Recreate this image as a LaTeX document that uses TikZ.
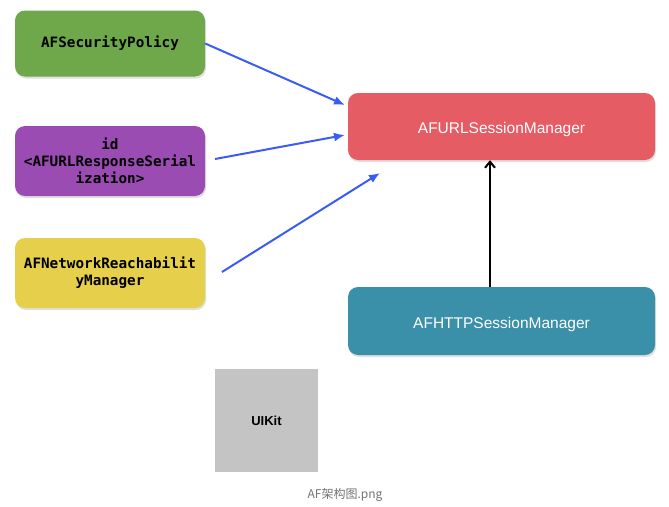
\documentclass[tikz,border=0pt]{standalone}
\usepackage{fontspec}
\setmainfont{Liberation Sans}
\newfontfamily\codefont{DejaVu Sans Mono}
\newfontfamily\cjkfont{Noto Sans CJK SC}
\usetikzlibrary{arrows.meta,shadows}
\definecolor{cgreen}{HTML}{6EA84A}
\definecolor{cpurple}{HTML}{9A4CB3}
\definecolor{cyellow}{HTML}{E5CF4B}
\definecolor{cred}{HTML}{E55C64}
\definecolor{cteal}{HTML}{3A90A8}
\definecolor{cgray}{HTML}{C4C4C4}
\definecolor{cblue}{HTML}{3A5CF5}
\newcommand{\lowertext}[1]{\raisebox{-3pt}[\height][\depth]{#1}}
\tikzset{
  leftbox/.style={draw=none, rounded corners=10pt, minimum width=190pt, minimum height=66pt,
    inner sep=0pt, align=center, text width=188pt,
    font=\codefont\bfseries\fontsize{14.3}{17}\selectfont, text=black,
    drop shadow={shadow xshift=1pt, shadow yshift=-2pt, opacity=0.25}},
  rightbox/.style={draw=none, rounded corners=10pt, minimum width=307pt, minimum height=67pt,
    inner sep=0pt, text=white, font=\fontsize{15.5}{18}\selectfont,
    drop shadow={shadow xshift=1pt, shadow yshift=-2pt, opacity=0.25}},
  bluearrow/.style={draw=cblue, line width=2pt, -{Latex[length=11pt,width=9pt]}},
  blackarrow/.style={draw=black, line width=2pt, -{Straight Barb[length=6pt,width=10pt]}},
}
\begin{document}
\begin{tikzpicture}[x=1pt,y=-1pt]
\useasboundingbox (0,0) rectangle (669,506);
\node[leftbox, fill=cgreen] (sec) at (110,43.5) {AFSecurityPolicy};
\node[leftbox, fill=cpurple, minimum height=70pt] (ser) at (110,161) {id\\<AFURLResponseSerial\\ization>};
\node[leftbox, fill=cyellow, minimum height=70pt] (reach) at (110,273) {AFNetworkReachabilit\\yManager};
\node[rightbox, fill=cred] (url) at (501.5,126.5) {\lowertext{AFURLSessionManager}};
\node[rightbox, fill=cteal, minimum height=68pt] (http) at (501.5,321) {\lowertext{AFHTTPSessionManager}};
\node[fill=cgray, minimum width=103pt, minimum height=103pt, inner sep=0pt,
  font=\bfseries\fontsize{13}{15}\selectfont] (uikit) at (266.5,420.5) {UIKit};
\node[text=black!55, font=\cjkfont\fontsize{12}{14}\selectfont] (cap) at (345,495) {AF架构图.png};
\coordinate (e1) at (345,105);
\coordinate (e2) at (345,135);
\coordinate (e3) at (380,173);
\coordinate (s2) at (215,159);
\coordinate (s3) at (222,272);
\draw[bluearrow] (sec.east) -- (e1);
\draw[bluearrow] (s2) -- (e2);
\draw[bluearrow] (s3) -- (e3);
\draw[blackarrow] (http.north -| 490,0) -- (url.south -| 490,0);
\end{tikzpicture}
\end{document}
